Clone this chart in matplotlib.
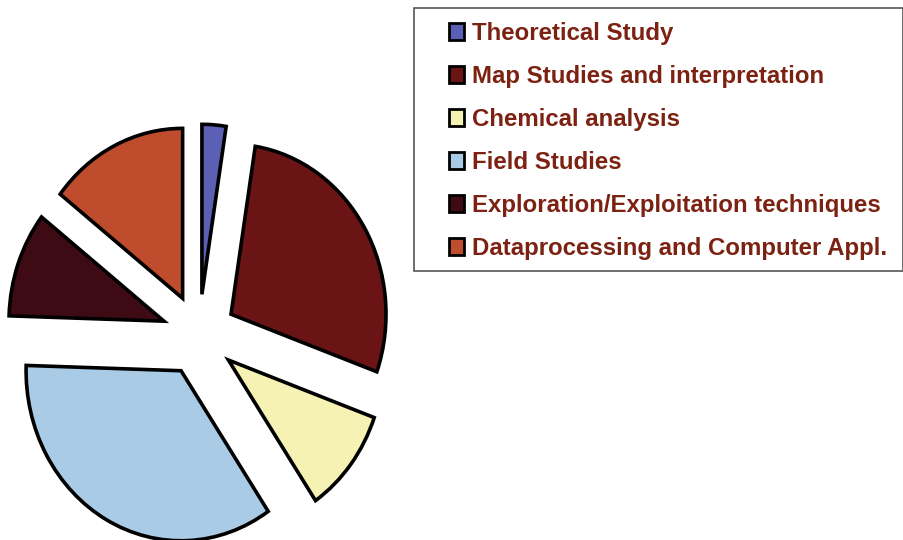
import matplotlib.pyplot as plt
from matplotlib.patches import Rectangle

# share of each activity, clockwise from 12 o'clock
labels = [
    "Theoretical Study",
    "Map Studies and interpretation",
    "Chemical analysis",
    "Field Studies",
    "Exploration/Exploitation techniques",
    "Dataprocessing and Computer Appl.",
]
shares = [2.5, 28, 10, 35, 10, 14.5]
colors = ["#5c60b4", "#6a1416", "#f6f2b4", "#a9cbe6", "#3e0a14", "#bf4c2c"]

W, H = 904, 540
fig = plt.figure(figsize=(W / 100, H / 100), dpi=100)
ax = fig.add_axes([0, 0, 1, 1])

wedges, _ = ax.pie(
    shares, colors=colors, startangle=90, counterclock=False,
    explode=[0.24] * len(shares),
    wedgeprops=dict(edgecolor="black", linewidth=2.6),
)

# pie is a little taller than wide; place its centre in pixel terms
cx, cy = 199, H - 335
rx, ry = 155, 170
ax.set_aspect("auto")
ax.set_xlim(-cx / rx, (W - cx) / rx)
ax.set_ylim(-cy / ry, (H - cy) / ry)
ax.axis("off")

# legend box
fig.patches.append(Rectangle((414 / W, 1 - 271 / H), (903 - 414) / W, (271 - 8) / H,
                             transform=fig.transFigure, fill=False,
                             edgecolor="#555555", linewidth=1.2))

leg = fig.legend(
    wedges, labels, loc="upper left", bbox_to_anchor=(449 / W, 1 - 22 / H),
    frameon=False, prop=dict(family="Liberation Sans", weight="bold", size=17.3),
    handlelength=0.62, handleheight=0.7, handletextpad=0.33,
    labelspacing=0.83, borderpad=0, borderaxespad=0,
)
for t in leg.get_texts():
    t.set_color("#7c2212")
for h in leg.legend_handles:
    h.set_linewidth(2.0)

fig.savefig("out.png", dpi=100)
